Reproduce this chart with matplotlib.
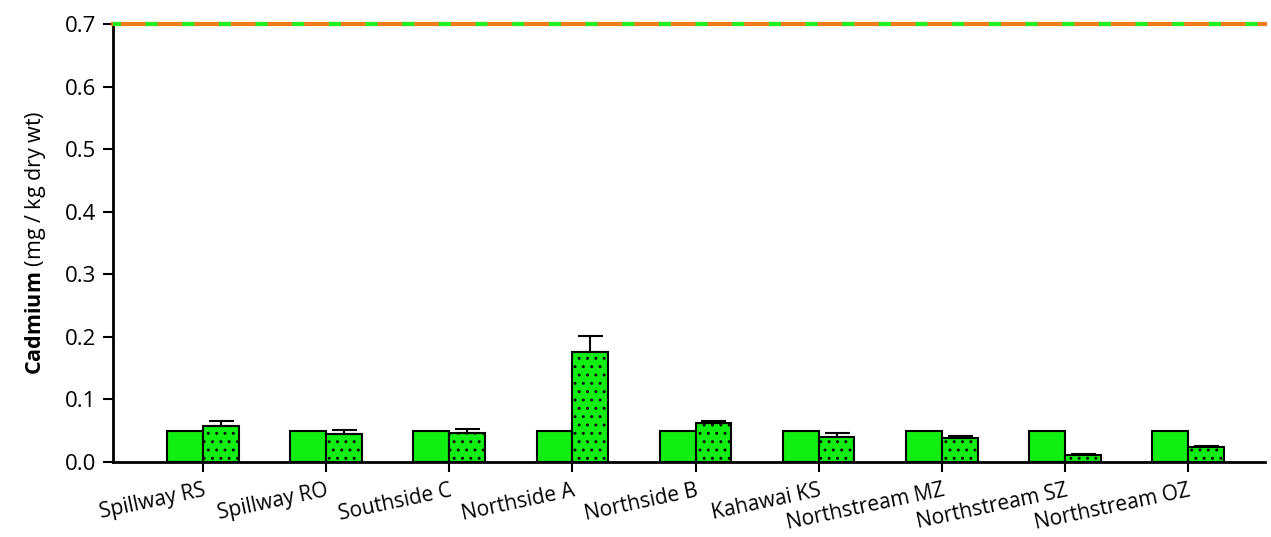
import numpy as np
import matplotlib.pyplot as plt

plt.rcParams['font.family'] = ['Open Sans', 'DejaVu Sans']
plt.rcParams['mathtext.fontset'] = 'custom'
plt.rcParams['mathtext.rm'] = 'Open Sans'
plt.rcParams['mathtext.bf'] = 'Open Sans:bold'
plt.rcParams['hatch.linewidth'] = 0.9

sites = ['Spillway RS', 'Spillway RO', 'Southside C', 'Northside A', 'Northside B',
         'Kahawai KS', 'Northstream MZ', 'Northstream SZ', 'Northstream OZ']
plain_vals = [0.05, 0.05, 0.05, 0.05, 0.05, 0.05, 0.05, 0.05, 0.05]
dotted_vals = [0.057, 0.044, 0.047, 0.176, 0.062, 0.040, 0.038, 0.011, 0.024]
dotted_err = [0.008, 0.007, 0.006, 0.025, 0.003, 0.006, 0.003, 0.001, 0.002]
guideline = 0.7

green = '#11ee11'
x = np.arange(len(sites))
w = 0.29

fig = plt.figure(figsize=(12.71, 5.37), dpi=100)
ax = fig.add_axes([0.0889, 0.1397, 0.906, 0.8156])

ax.bar(x - w / 2, plain_vals, w, color=green, edgecolor='black', linewidth=1.5, zorder=2)
ax.bar(x + w / 2, dotted_vals, w, color=green, edgecolor='black', linewidth=1.5,
       hatch='..', zorder=2)
ax.errorbar(x + w / 2, dotted_vals, yerr=[np.zeros(len(x)), dotted_err], fmt='none',
            ecolor='black', elinewidth=1.5, capsize=9, capthick=1.5, zorder=3)

# guideline drawn as orange line with green dashes on top
ax.axhline(guideline, color='#f07c1e', lw=3, zorder=4, clip_on=False)
ax.axhline(guideline, color='#22ee22', lw=3, linestyle=(1, (2.9, 5.9)), zorder=5,
           clip_on=False)

ax.set_xlim(-0.73, 8.62)
ax.set_ylim(0, 0.7)
ax.set_yticks(np.arange(0, 0.71, 0.1))
ax.set_yticklabels([f'{v:.1f}' for v in np.arange(0, 0.71, 0.1)], fontsize=16)
ax.set_xticks(x)
ax.set_xticklabels(sites, fontsize=15, rotation=12, ha='right', va='top',
                   rotation_mode='anchor')
ax.tick_params(axis='both', direction='out', length=7, width=1.5, pad=5)
ax.tick_params(axis='x', pad=6)

for s in ['top', 'right']:
    ax.spines[s].set_visible(False)
for s in ['left', 'bottom']:
    ax.spines[s].set_linewidth(2)

ax.set_ylabel(r'$\bf{Cadmium}$ (mg / kg dry wt)', fontsize=15.5, labelpad=12)

fig.savefig('out.png', dpi=100)
